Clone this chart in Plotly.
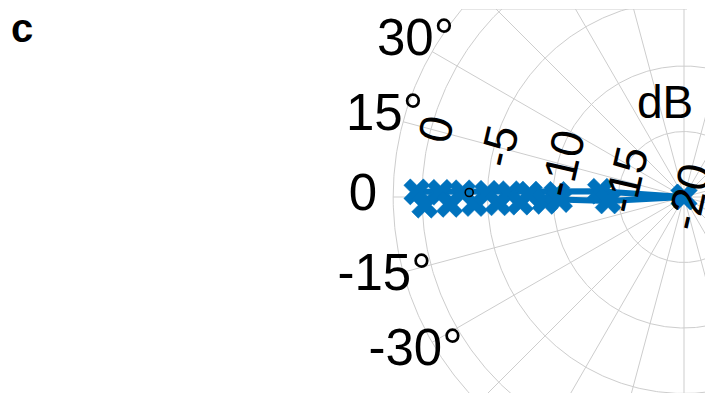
import numpy as np
import plotly.graph_objects as go

# ---------------- data ----------------
# measured points, in the order the polyline visits them
marker_db = [-13.6, 0.4, -0.2, -1.4, -2.1, -3.1, -4.0, -5.0, -5.8, -6.7, -7.5, -8.2, -9.4,
             -10.3, -10.5, -14.2]
marker_deg = [4.0, 1.1, -1.8, 1.1, -1.8, 1.1, -1.8, 1.1, -1.8, 1.1, -1.8, 1.1, -1.8,
              1.2, -1.2, -3.0]
center_db = -20.0
circle_db = [-3.6]
circle_deg = [1.2]

r_ticks = [0, -5, -10, -15, -20]
r_tick_labels = ["0", "-5", "-10", "-15", "-20"]
ring_db = [-15, -10, -5, 0]
outer_db = 2.2
theta_ticks = [30, 15, 0, -15, -30]
theta_tick_labels = ["30°", "15°", "0", "-15°", "-30°"]
spoke_deg = list(range(0, 360, 15))

# ---------------- geometry / layout constants ----------------
W, H = 705, 393
CX, CY = 684, 197          # pixel position of the pole
TOP = 9                    # clip line at top
PX = 13.1                  # pixels per dB
RMIN = -20
BLUE = "#0072BD"
GRID = "rgb(205,205,205)"
FONT = "Arial, Liberation Sans, Helvetica, sans-serif"


def to_xy(db, deg):
    r = np.asarray(db, dtype=float) - RMIN
    t = np.deg2rad(np.asarray(deg, dtype=float))
    return -r * np.cos(t), r * np.sin(t)


fig = go.Figure()

# rings
for db in ring_db + [outer_db]:
    tt = np.linspace(0, 360, 721)
    x, y = to_xy(np.full_like(tt, db), tt)
    fig.add_trace(go.Scatter(x=x, y=y, mode="lines", line=dict(color=GRID, width=1),
                             hoverinfo="skip", showlegend=False))
# spokes
sx, sy = [], []
for d in spoke_deg:
    x, y = to_xy([RMIN, outer_db], [d, d])
    sx += list(x) + [None]
    sy += list(y) + [None]
fig.add_trace(go.Scatter(x=sx, y=sy, mode="lines", line=dict(color=GRID, width=1),
                         hoverinfo="skip", showlegend=False))

# data polyline: pole -> points -> pole
pdb = [center_db] + marker_db + [center_db]
pdeg = [0] + marker_deg + [0]
px_, py_ = to_xy(pdb, pdeg)
fig.add_trace(go.Scatter(x=px_, y=py_, mode="lines+markers",
                         line=dict(color=BLUE, width=6),
                         marker=dict(symbol="x", size=23, color=BLUE,
                                     line=dict(color=BLUE, width=0.5)),
                         cliponaxis=False, showlegend=False))

# black open circle
ox, oy = to_xy(circle_db, circle_deg)
fig.add_trace(go.Scatter(x=ox, y=oy, mode="markers",
                         marker=dict(symbol="circle-open", size=8, color="black",
                                     line=dict(color="black", width=1.6)),
                         showlegend=False))

# angle labels
lab_r = []
for t in theta_tick_labels:
    lab_r.append(310 / PX + RMIN + (0.0 if "°" in t else 11 / PX))
ax_, ay_ = to_xy(lab_r, theta_ticks)
fig.add_trace(go.Scatter(x=ax_, y=ay_, mode="text", text=theta_tick_labels,
                         textposition="middle center", cliponaxis=False,
                         textfont=dict(family=FONT, size=51, color="black"),
                         showlegend=False, hoverinfo="skip"))

# radial tick labels (rotated)
for db, lab in zip(r_ticks, r_tick_labels):
    x, y = to_xy(db, 15)
    fig.add_annotation(x=float(x), y=float(y), text=lab, showarrow=False,
                       textangle=-77, xshift=5, xanchor="center", yanchor="middle",
                       font=dict(family=FONT, size=46, color="black"))

# dB unit label
fig.add_annotation(x=(665 - CX) / PX, y=(CY - 101.5) / PX, text="dB", showarrow=False,
                   xanchor="center", yanchor="middle",
                   font=dict(family=FONT, size=46, color="black"))

# panel letter
fig.add_annotation(x=22 / W, y=1 - 19 / H, xref="paper", yref="paper", text="<b>c</b>",
                   showarrow=False, xanchor="center", yanchor="middle",
                   font=dict(family=FONT, size=40, color="black"))

# top clipping line
ytop = (CY - TOP) / PX
r_out = outer_db - RMIN
fig.add_shape(type="line", x0=-np.sqrt(r_out ** 2 - ytop ** 2), x1=3 / PX, y0=ytop, y1=ytop,
              line=dict(color=GRID, width=1))

fig.update_layout(
    width=W, height=H,
    margin=dict(l=0, r=0, t=TOP, b=0),
    paper_bgcolor="white", plot_bgcolor="white",
    xaxis=dict(range=[-CX / PX, (W - CX) / PX], visible=False, fixedrange=True),
    yaxis=dict(range=[-(H - CY) / PX, (CY - TOP) / PX], visible=False, fixedrange=True),
    showlegend=False,
)

fig.write_html("out.html")
